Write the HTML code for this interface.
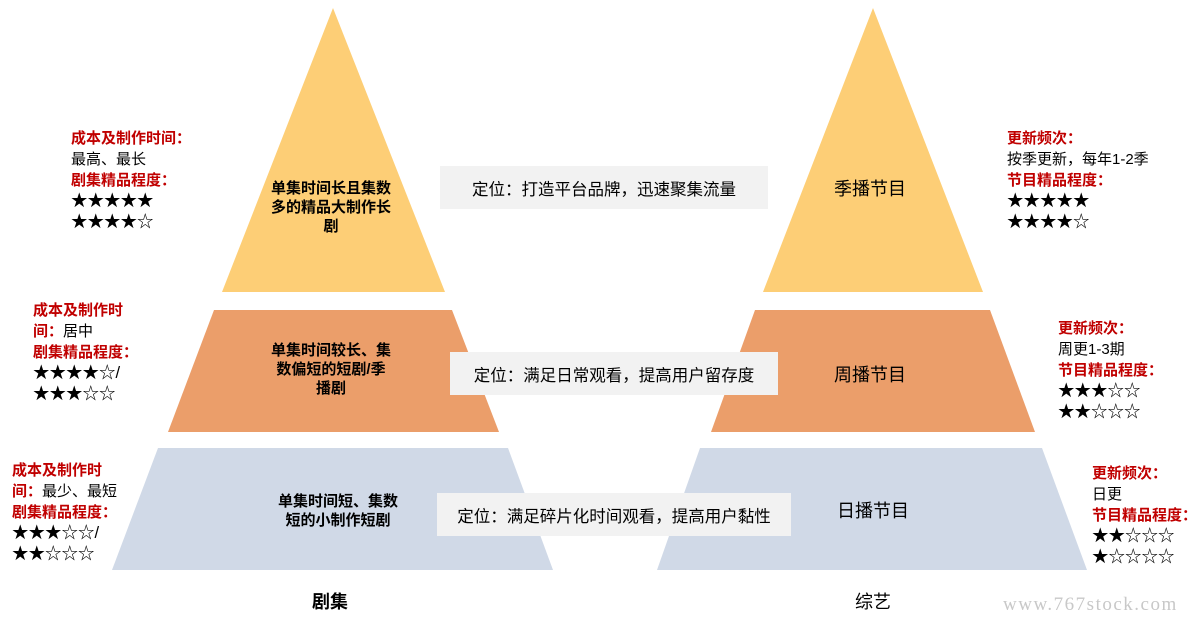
<!DOCTYPE html>
<html><head><meta charset="utf-8"><style>
body{margin:0;width:1200px;height:623px;background:#fff;position:relative;overflow:hidden;font-family:"Liberation Sans","Noto Sans CJK SC",sans-serif;}
.t{position:absolute;font-size:15px;line-height:21px;color:#000;white-space:nowrap}
.r{color:#c00000;font-weight:bold}
.s{font-size:16.5px}
.box{position:absolute;background:#f2f2f2;font-size:16.5px;display:flex;align-items:center;justify-content:center}
.c{position:absolute;text-align:center;font-size:15px;font-weight:bold;line-height:19px;white-space:nowrap}
</style></head><body>
<svg width="1200" height="623" style="position:absolute;left:0;top:0">
<polygon points="333,8 445,292 222,292" fill="#FDCE76"/>
<polygon points="214,310 452,310 499,432 168,432" fill="#EB9E6A"/>
<polygon points="158,448 508,448 553,570 112,570" fill="#D0D9E7"/>
<polygon points="873,8 983,292 763,292" fill="#FDCE76"/>
<polygon points="755,310 990,310 1035,432 711,432" fill="#EB9E6A"/>
<polygon points="700,448 1042,448 1087,570 657,570" fill="#D0D9E7"/>
</svg>
<div class="box" style="left:440px;top:166px;width:328px;height:43px">定位：打造平台品牌，迅速聚集流量</div>
<div class="box" style="left:450px;top:352px;width:328px;height:43px">定位：满足日常观看，提高用户留存度</div>
<div class="box" style="left:437px;top:493px;width:354px;height:43px">定位：满足碎片化时间观看，提高用户黏性</div>
<div class="c" style="left:266px;top:179px;width:130px">单集时间长且集数<br>多的精品大制作长<br>剧</div>
<div class="c" style="left:266px;top:341px;width:130px">单集时间较长、集<br>数偏短的短剧/季<br>播剧</div>
<div class="c" style="left:273px;top:492px;width:130px">单集时间短、集数<br>短的小制作短剧</div>
<div class="c" style="left:800px;top:180px;width:140px;font-size:18px;font-weight:normal">季播节目</div>
<div class="c" style="left:800px;top:366px;width:140px;font-size:18px;font-weight:normal">周播节目</div>
<div class="c" style="left:803px;top:502px;width:140px;font-size:18px;font-weight:normal">日播节目</div>
<div class="c" style="left:290px;top:593px;width:80px;font-size:18px">剧集</div>
<div class="c" style="left:833px;top:593px;width:80px;font-size:18px;font-weight:normal">综艺</div>
<div class="t" style="left:71px;top:128px"><span class="r">成本及制作时间：</span><br>最高、最长<br><span class="r">剧集精品程度：</span><br><span class="s">★★★★★<br>★★★★☆</span></div>
<div class="t" style="left:33px;top:300px"><span class="r">成本及制作时</span><br><span class="r">间：</span>居中<br><span class="r">剧集精品程度：</span><br><span class="s">★★★★☆/<br>★★★☆☆</span></div>
<div class="t" style="left:12px;top:460px"><span class="r">成本及制作时</span><br><span class="r">间：</span>最少、最短<br><span class="r">剧集精品程度：</span><br><span class="s">★★★☆☆/<br>★★☆☆☆</span></div>
<div class="t" style="left:1007px;top:128px"><span class="r">更新频次：</span><br>按季更新，每年1-2季<br><span class="r">节目精品程度：</span><br><span class="s">★★★★★<br>★★★★☆</span></div>
<div class="t" style="left:1058px;top:318px"><span class="r">更新频次：</span><br>周更1-3期<br><span class="r">节目精品程度：</span><br><span class="s">★★★☆☆<br>★★☆☆☆</span></div>
<div class="t" style="left:1092px;top:463px"><span class="r">更新频次：</span><br>日更<br><span class="r">节目精品程度：</span><br><span class="s">★★☆☆☆<br>★☆☆☆☆</span></div>
<div class="t" style="left:1003px;top:594px;font-size:19px;color:#c8c8c8;font-family:'Liberation Serif',serif;letter-spacing:1.5px">www.767stock.com</div>
</body></html>
